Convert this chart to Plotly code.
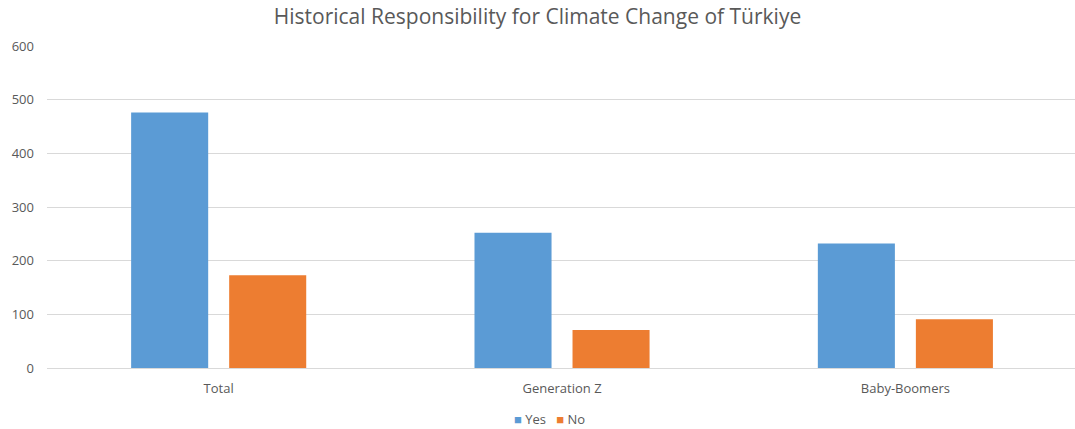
import plotly.graph_objects as go

# Survey counts by group
categories = ["Total", "Generation Z", "Baby-Boomers"]
yes_values = [476, 252, 232]
no_values = [173, 71, 91]
series_names = ["Yes", "No"]
series_colors = ["#5B9BD5", "#ED7D31"]

text_color = "#595959"
font_family = "Open Sans, Liberation Sans, sans-serif"

fig = go.Figure()
for name, vals, col in zip(series_names, [yes_values, no_values], series_colors):
    fig.add_trace(go.Bar(name=name, x=categories, y=vals, showlegend=False,
                         marker=dict(color=col, line=dict(width=0))))

# Compact legend with small square swatches under the axis
legend_text = "&nbsp;&nbsp;&nbsp;".join(
    f"<span style='color:{c}'>■</span> {n}" for n, c in zip(series_names, series_colors)
)
fig.add_annotation(text=legend_text, xref="paper", yref="paper",
                   x=0.489, y=-0.158, xanchor="center", yanchor="middle",
                   showarrow=False, font=dict(size=13, color=text_color))

fig.update_layout(
    width=1075, height=429,
    paper_bgcolor="white", plot_bgcolor="white",
    margin=dict(l=47, r=0, t=46, b=61, autoexpand=False),
    barmode="group", bargap=0.429, bargroupgap=0.214,
    font=dict(family=font_family, color=text_color, size=13),
    title=dict(text="Historical Responsibility for Climate Change of Türkiye",
               x=0.5, xanchor="center", y=0.962, yanchor="middle",
               font=dict(size=21, color=text_color, family=font_family)),
    xaxis=dict(range=[-0.5, 2.494], showgrid=False, ticks="", showline=True,
               linecolor="#D9D9D9", linewidth=1, ticklabelstandoff=8,
               tickfont=dict(size=13, color=text_color)),
    yaxis=dict(range=[0, 600], dtick=100, showgrid=True, gridcolor="#D9D9D9",
               gridwidth=1, zeroline=False, showline=False, ticks="",
               ticklabelstandoff=12,
               tickfont=dict(size=13, color=text_color)),
)

fig.write_html("out.html")
